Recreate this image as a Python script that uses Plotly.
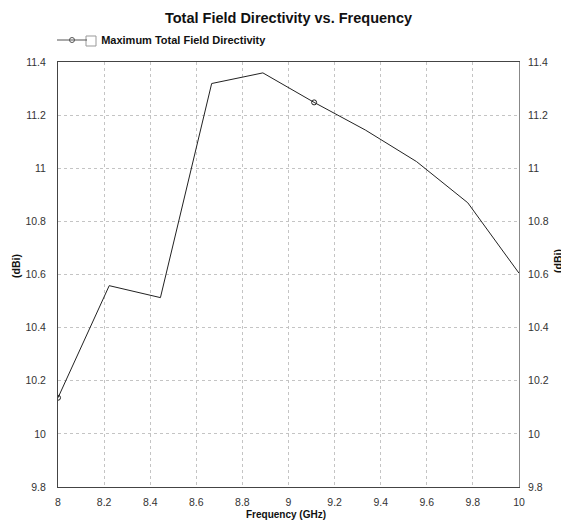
import plotly.graph_objects as go

freq = [8.0, 8.2222, 8.4444, 8.6667, 8.8889, 9.1111, 9.3333, 9.5556, 9.7778, 10.0]
directivity = [10.136, 10.558, 10.513, 11.319, 11.359, 11.248, 11.144, 11.025, 10.870, 10.605]
marked_idx = [0, 5]
x_ticks = [8, 8.2, 8.4, 8.6, 8.8, 9, 9.2, 9.4, 9.6, 9.8, 10]
x_labels = ["8", "8.2", "8.4", "8.6", "8.8", "9", "9.2", "9.4", "9.6", "9.8", "10"]
y_ticks = [9.8, 10, 10.2, 10.4, 10.6, 10.8, 11, 11.2, 11.4]
y_labels = ["9.8", "10", "10.2", "10.4", "10.6", "10.8", "11", "11.2", "11.4"]
series_name = "Maximum Total Field Directivity"
x_title = "Frequency (GHz)"
y_title = "(dBi)"
chart_title = "Total Field Directivity vs. Frequency"

FONT = "Liberation Sans, Arial, sans-serif"
OFF = 8  # page body margin
W, H = 569 - OFF, 521 - OFF
L, R, T, B = 58 - OFF, 50, 62 - OFF, 34
PW, PH = W - L - R, H - T - B
LINE_C = "#222222"


def px_x(page_x):
    return (page_x - OFF - L) / PW


def px_y(page_y):
    return 1 - (page_y - OFF - T) / PH


fig = go.Figure()
fig.add_trace(go.Scatter(
    x=freq, y=directivity, mode="lines", showlegend=False,
    line=dict(color=LINE_C, width=1), name=series_name,
))
fig.add_trace(go.Scatter(
    x=[freq[i] for i in marked_idx], y=[directivity[i] for i in marked_idx],
    mode="markers", showlegend=False, name=series_name,
    marker=dict(symbol="circle-open", size=5, color=LINE_C, line=dict(width=1)),
))
fig.add_trace(go.Scatter(
    x=[None], y=[None], mode="lines+markers", showlegend=True,
    name="\u00a0\u00a0\u00a0" + series_name,
    line=dict(color="#555555", width=1),
    marker=dict(symbol="circle-open", size=5, color="#555555", line=dict(width=1)),
))
fig.add_trace(go.Scatter(
    x=freq, y=directivity, mode="lines", yaxis="y2", showlegend=False,
    line=dict(color="rgba(0,0,0,0)", width=0), hoverinfo="skip",
))

tickfont = dict(family=FONT, size=10.5, color="#333333")
axis_common = dict(
    showgrid=True, gridcolor="#c4c4c4", griddash="3px,3px", gridwidth=1,
    zeroline=False, ticks="", tickfont=tickfont, automargin=False,
)

fig.update_layout(
    width=W, height=H,
    margin=dict(l=L, r=R, t=T, b=B, pad=0, autoexpand=False),
    paper_bgcolor="white", plot_bgcolor="white",
    title=dict(text="<b>" + chart_title + "</b>", x=0.5, xanchor="center",
               xref="paper", yref="container", y=1 - (18 - OFF) / H, yanchor="middle",
               font=dict(family=FONT, size=14.5, color="#111111")),
    font=dict(family=FONT, color="#111111"),
    showlegend=True,
    legend=dict(x=px_x(52), xanchor="left", y=px_y(40), yanchor="middle",
                orientation="h", bgcolor="rgba(0,0,0,0)", itemwidth=30,
                font=dict(family=FONT, size=11, color="#111111", weight="bold")),
    xaxis=dict(range=[8, 10], tickvals=x_ticks, ticktext=x_labels,
               showline=True, linecolor="#444444", linewidth=1, mirror=True,
               ticklabelstandoff=5, **axis_common),
    yaxis=dict(range=[9.8, 11.4], tickvals=y_ticks, ticktext=y_labels,
               showline=True, linecolor="#444444", linewidth=1,
               ticklabelstandoff=9, **axis_common),
    yaxis2=dict(range=[9.8, 11.4], tickvals=y_ticks, ticktext=y_labels, overlaying="y", side="right",
                showline=True, linecolor="#888888", linewidth=1, showgrid=False, zeroline=False,
                ticks="", tickfont=tickfont, ticklabelstandoff=6, automargin=False),
    annotations=[
        dict(text="<b>" + x_title + "</b>", xref="paper", yref="paper",
             x=px_x(286), y=px_y(514), xanchor="center", yanchor="middle", showarrow=False,
             font=dict(family=FONT, size=10, color="#111111")),
        dict(text="<b>" + y_title + "</b>", xref="paper", yref="paper", textangle=-90,
             x=px_x(16), y=px_y(266), xanchor="center", yanchor="middle", showarrow=False,
             font=dict(family=FONT, size=10.5, color="#111111")),
        dict(text="<b>" + y_title + "</b>", xref="paper", yref="paper", textangle=-90,
             x=px_x(558), y=px_y(261), xanchor="center", yanchor="middle", showarrow=False,
             font=dict(family=FONT, size=10.5, color="#111111")),
    ],
)

fig.add_shape(type="rect", xref="paper", yref="paper",
              x0=px_x(86), x1=px_x(96), y0=px_y(46), y1=px_y(36),
              line=dict(color="#999999", width=1), fillcolor="white", layer="above")

fig.write_html("out.html")
